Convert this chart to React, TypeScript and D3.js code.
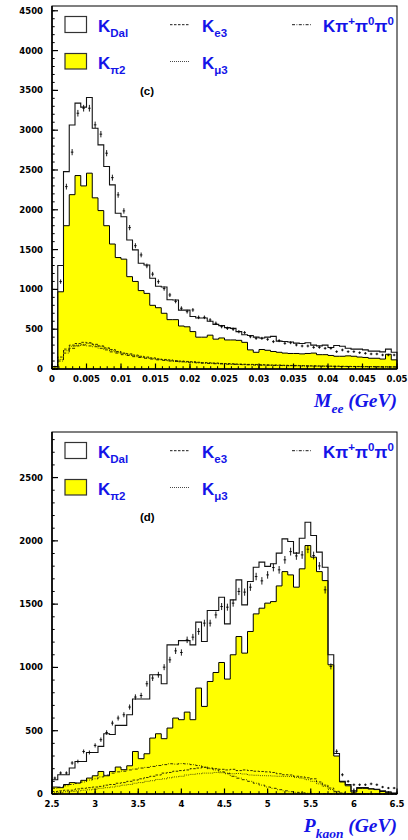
import * as d3 from 'd3';

// ---------------------------------------------------------------------------
// Panel (c): M_ee, 60 bins over 0 – 0.05 GeV
// ---------------------------------------------------------------------------
const MEE_DOMAIN: [number, number] = [0, 0.05];
const MEE_Y_MAX = 4560;

const MEE_KDAL = [
  30, 1300, 2480, 3065, 3340, 3290, 3410, 3025, 2815, 2544,
  2313, 1957, 1913, 1621, 1496, 1328, 1307, 1140, 1040, 1030,
  870, 867, 740, 740, 660, 640, 640, 600, 560, 545,
  520, 510, 470, 430, 420, 400, 390, 400, 410, 350,
  345, 340, 325, 320, 330, 300, 290, 300, 270, 295,
  285, 260, 250, 250, 240, 225, 225, 215, 250, 210,
];
const MEE_KPI2 = [
  30, 970, 1800, 2190, 2430, 2300, 2460, 2150, 1990, 1800,
  1570, 1400, 1380, 1160, 1100, 985, 950, 800, 770, 700,
  620, 620, 540, 530, 470, 400, 400, 425, 375, 390,
  365, 365, 360, 335, 240, 210, 245, 235, 220, 210,
  200, 195, 195, 190, 195, 200, 180, 180, 170, 160,
  160, 165, 160, 150, 145, 135, 135, 125, 185, 115,
];
const MEE_KE3 = [
  0, 150, 250, 300, 320, 335, 330, 310, 290, 265,
  245, 220, 200, 190, 175, 160, 150, 140, 128, 120,
  115, 105, 100, 95, 92, 85, 80, 78, 75, 70,
  68, 66, 62, 60, 58, 57, 54, 52, 50, 50,
  47, 45, 45, 42, 40, 40, 38, 37, 36, 36,
  34, 33, 32, 32, 30, 30, 29, 28, 28, 27,
];
const MEE_KMU3 = [
  0, 120, 230, 285, 300, 310, 320, 300, 285, 260,
  230, 210, 195, 180, 165, 150, 140, 130, 120, 112,
  105, 100, 92, 88, 85, 80, 76, 72, 70, 66,
  62, 60, 58, 55, 54, 52, 50, 48, 47, 45,
  44, 42, 41, 40, 38, 37, 36, 35, 34, 33,
  32, 31, 30, 30, 29, 28, 27, 27, 26, 25,
];
const MEE_K3PI = [
  0, 100, 200, 260, 290, 300, 290, 280, 260, 240,
  215, 200, 180, 170, 155, 145, 135, 125, 115, 108,
  100, 95, 90, 85, 80, 76, 72, 70, 66, 64,
  60, 58, 56, 54, 52, 50, 48, 47, 45, 44,
  42, 41, 40, 38, 37, 36, 35, 34, 33, 32,
  31, 30, 30, 29, 28, 28, 27, 26, 26, 25,
];
const MEE_DATA = [
  30, 1098, 2291, 2724, 3213, 3276, 3276, 3067, 2950, 2711,
  2404, 2187, 1986, 1776, 1549, 1433, 1295, 1192, 1097, 1010,
  930, 850, 763, 720, 742, 649, 649, 616, 574, 532,
  511, 499, 469, 457, 406, 385, 385, 373, 344, 356,
  323, 330, 302, 289, 289, 272, 272, 260, 260, 218,
  239, 218, 218, 205, 197, 189, 189, 176, 176, 176,
];
const MEE_Y_TICKS = [0, 500, 1000, 1500, 2000, 2500, 3000, 3500, 4000, 4500];
const MEE_X_TICKS = [0, 0.005, 0.01, 0.015, 0.02, 0.025, 0.03, 0.035, 0.04, 0.045, 0.05];
const MEE_X_LABELS = ['0', '0.005', '0.01', '0.015', '0.02', '0.025', '0.03', '0.035', '0.04', '0.045', '0.05'];

// ---------------------------------------------------------------------------
// Panel (d): P_kaon, 60 bins over 2.5 – 6.5 GeV
// ---------------------------------------------------------------------------
const PK_DOMAIN: [number, number] = [2.5, 6.5];
const PK_Y_MAX = 2860;

const PK_KDAL = [
  113, 152, 152, 205, 257, 257, 328, 328, 376, 476,
  470, 542, 542, 626, 750, 750, 750, 942, 942, 871,
  1178, 1178, 1212, 1212, 1178, 1358, 1205, 1450, 1450, 1555,
  1344, 1534, 1692, 1494, 1679, 1792, 1832, 1798, 1819, 1903,
  2016, 1995, 1903, 2021, 2147, 2042, 1911, 1792, 1100, 320,
  100, 75, 25, 50, 50, 42, 38, 25, 15, 8,
];
const PK_KPI2 = [
  55, 50, 75, 90, 87, 108, 126, 144, 178, 144,
  178, 213, 192, 223, 336, 279, 318, 442, 476, 437,
  521, 600, 587, 647, 587, 837, 692, 889, 960, 1039,
  908, 1100, 1244, 1113, 1284, 1423, 1468, 1508, 1520, 1644,
  1757, 1731, 1634, 1779, 1963, 1871, 1757, 1686, 1021, 300,
  95, 65, 15, 45, 45, 40, 35, 20, 15, 5,
];
const PK_KE3 = [
  20, 25, 30, 30, 40, 45, 50, 55, 60, 70,
  75, 85, 90, 100, 110, 120, 130, 140, 150, 165,
  170, 180, 185, 190, 200, 205, 210, 205, 200, 195,
  190, 195, 185, 190, 185, 180, 178, 175, 170, 160,
  152, 150, 140, 135, 128, 120, 95, 70, 47, 21,
  8, 3, 0, 0, 0, 0, 0, 0, 0, 0,
];
const PK_KMU3 = [
  10, 12, 18, 20, 25, 30, 33, 38, 45, 50,
  55, 62, 70, 75, 85, 90, 100, 105, 115, 120,
  128, 135, 140, 150, 155, 160, 165, 165, 170, 168,
  165, 160, 162, 158, 150, 148, 145, 144, 142, 140,
  139, 138, 130, 125, 113, 100, 80, 60, 35, 15,
  5, 0, 0, 0, 0, 0, 0, 0, 0, 0,
];
const PK_K3PI = [
  45, 55, 65, 75, 85, 95, 110, 120, 135, 150,
  165, 175, 180, 190, 197, 205, 210, 218, 225, 232,
  239, 236, 240, 238, 232, 225, 215, 200, 190, 175,
  160, 140, 125, 113, 100, 85, 70, 55, 45, 34,
  25, 18, 13, 9, 6, 4, 3, 2, 1, 0,
  0, 0, 0, 0, 0, 0, 0, 0, 0, 0,
];
const PK_DATA = [
  126, 166, 166, 245, 257, 336, 328, 384, 429, 486,
  560, 600, 626, 687, 766, 778, 871, 916, 942, 1002,
  1060, 1131, 1118, 1218, 1239, 1284, 1350, 1350, 1415, 1481,
  1476, 1508, 1600, 1595, 1634, 1718, 1684, 1731, 1789, 1771,
  1850, 1915, 1881, 1889, 1934, 1884, 1802, 1613, 1008, 337,
  152, 100, 73, 73, 73, 80, 73, 55, 47, 47,
];
const PK_Y_TICKS = [0, 500, 1000, 1500, 2000, 2500];
const PK_X_TICKS = [2.5, 3, 3.5, 4, 4.5, 5, 5.5, 6, 6.5];
const PK_X_LABELS = ['2.5', '3', '3.5', '4', '4.5', '5', '5.5', '6', '6.5'];

// ---------------------------------------------------------------------------

const BLUE = '#1414e8';
const LEGEND_FONT = '"Liberation Sans", Arial, Helvetica, sans-serif';
const TICK_FONT = '"DejaVu Sans", Verdana, sans-serif';
const TITLE_FONT = '"Liberation Serif", "Times New Roman", serif';
/** Data error bar half-height, as a fraction of sqrt(N). */
const ERR_SCALE = 0.6;

type Frame = { left: number; right: number; top: number; bottom: number };
type Pt = { x: number; y: number };

/** Bin edges + values as points for a step curve (last value repeated at the right edge). */
function stepPoints(values: number[], domain: [number, number]): Pt[] {
  const w = (domain[1] - domain[0]) / values.length;
  const pts = values.map((v, i) => ({ x: domain[0] + i * w, y: v }));
  pts.push({ x: domain[1], y: values[values.length - 1] });
  return pts;
}

interface PanelProps {
  frame: Frame;
  xDomain: [number, number];
  yMax: number;
  kdal: number[];
  kpi2: number[];
  ke3: number[];
  kmu3: number[];
  k3pi: number[];
  data: number[];
  xTicks: number[];
  xLabels: string[];
  xMinorStep: number;
  yTicks: number[];
  yMinorStep: number;
  tag: string;
  titleMain: string;
  titleSub: string;
}

function Panel(props: PanelProps) {
  const { frame, xDomain, yMax } = props;
  const x = d3.scaleLinear().domain(xDomain).range([frame.left, frame.right]);
  const y = d3.scaleLinear().domain([0, yMax]).range([frame.bottom, frame.top]);

  const stepLine = d3
    .line<Pt>()
    .x((d) => x(d.x))
    .y((d) => y(d.y))
    .curve(d3.curveStepAfter);
  const stepArea = d3
    .area<Pt>()
    .x((d) => x(d.x))
    .y0(y(0))
    .y1((d) => y(d.y))
    .curve(d3.curveStepAfter);

  const closed = (vals: number[]) => [
    { x: xDomain[0], y: 0 },
    ...stepPoints(vals, xDomain),
    { x: xDomain[1], y: 0 },
  ];

  const binW = (xDomain[1] - xDomain[0]) / props.data.length;
  const xMinor = d3.range(xDomain[0], xDomain[1] + binW / 10, props.xMinorStep);
  const yMinor = d3.range(0, yMax, props.yMinorStep);

  const t = frame.top;
  const lx = 65;
  return (
    <g>
      {/* Kpi2 filled */}
      <path d={stepArea(stepPoints(props.kpi2, xDomain)) ?? ''} fill="#ffff00" stroke="none" />
      <path d={stepLine(closed(props.kpi2)) ?? ''} fill="none" stroke="#000" strokeWidth={1} />
      {/* KDal total */}
      <path d={stepLine(closed(props.kdal)) ?? ''} fill="none" stroke="#111" strokeWidth={1.1} />
      {/* background components */}
      <path d={stepLine(stepPoints(props.ke3, xDomain)) ?? ''} fill="none" stroke="#000" strokeWidth={0.8} strokeDasharray="2.5 1.5" />
      <path d={stepLine(stepPoints(props.kmu3, xDomain)) ?? ''} fill="none" stroke="#000" strokeWidth={0.8} strokeDasharray="0.8 1.2" />
      <path d={stepLine(stepPoints(props.k3pi, xDomain)) ?? ''} fill="none" stroke="#000" strokeWidth={0.8} strokeDasharray="3 1.5 0.8 1.5" />
      {/* data */}
      {props.data.map((v, i) => {
        const cx = x(xDomain[0] + (i + 0.5) * binW);
        const e = Math.sqrt(v) * ERR_SCALE;
        return (
          <g key={i} stroke="#000" strokeWidth={0.9}>
            <line x1={cx} x2={cx} y1={y(v + e) - 0.6} y2={y(Math.max(0, v - e)) + 0.6} />
            <line x1={cx - 1.3} x2={cx + 1.3} y1={y(v)} y2={y(v)} />
          </g>
        );
      })}

      {/* frame */}
      <rect
        x={frame.left}
        y={frame.top}
        width={frame.right - frame.left}
        height={frame.bottom - frame.top}
        fill="none"
        stroke="#000"
        strokeWidth={1}
      />
      <line x1={frame.left} x2={frame.right} y1={frame.bottom} y2={frame.bottom} stroke="#000" strokeWidth={1.6} />
      <line x1={frame.left} x2={frame.left} y1={frame.top} y2={frame.bottom} stroke="#000" strokeWidth={1.6} />

      {/* y axis ticks */}
      {yMinor.map((v) => (
        <line key={`ym${v}`} x1={frame.left} x2={frame.left + 2.7} y1={y(v)} y2={y(v)} stroke="#000" strokeWidth={1} />
      ))}
      {props.yTicks.map((v) => (
        <g key={`yt${v}`}>
          <line x1={frame.left} x2={frame.left + 6} y1={y(v)} y2={y(v)} stroke="#000" strokeWidth={1.2} />
          <text
            x={43}
            y={y(v)}
            dy="0.36em"
            textAnchor="end"
            fontFamily={TICK_FONT}
            fontWeight="bold"
            fontSize={8.5}
            fill="#000"
          >
            {v}
          </text>
        </g>
      ))}

      {/* x axis ticks */}
      {xMinor.map((v) => (
        <line key={`xm${v}`} x1={x(v)} x2={x(v)} y1={frame.bottom} y2={frame.bottom - 2.8} stroke="#000" strokeWidth={1} />
      ))}
      {props.xTicks.map((v, i) => (
        <g key={`xt${v}`}>
          <line x1={x(v)} x2={x(v)} y1={frame.bottom} y2={frame.bottom - 5.5} stroke="#000" strokeWidth={1.2} />
          <text
            x={x(v)}
            y={frame.bottom + 13.3}
            textAnchor="middle"
            fontFamily={TICK_FONT}
            fontWeight="bold"
            fontSize={8.5}
            fill="#000"
          >
            {props.xLabels[i]}
          </text>
        </g>
      ))}

      {/* axis title */}
      <text
        x={frame.right}
        y={frame.bottom + 37.5}
        textAnchor="end"
        fontFamily={TITLE_FONT}
        fontStyle="italic"
        fontWeight="bold"
        fontSize={19.5}
        fill={BLUE}
      >
        <tspan>{props.titleMain}</tspan>
        <tspan fontSize={13.5} dy={6.5}>
          {props.titleSub}
        </tspan>
        <tspan dy={-6.5}> (GeV)</tspan>
      </text>

      {/* tag */}
      <text x={140} y={t + 89} fontFamily={LEGEND_FONT} fontWeight="bold" fontSize={11.5} fill="#000">
        {props.tag}
      </text>

      {/* legend */}
      <rect x={lx} y={t + 10.5} width={21.5} height={16} fill="#fff" stroke="#333" strokeWidth={1.2} />
      <rect x={lx} y={t + 47.5} width={21.5} height={15.5} fill="#ffff00" stroke="#333" strokeWidth={1.2} />
      <line x1={170} x2={190} y1={t + 18.7} y2={t + 18.7} stroke="#000" strokeWidth={0.9} strokeDasharray="2.5 1.5" />
      <line x1={170} x2={190} y1={t + 55.5} y2={t + 55.5} stroke="#000" strokeWidth={0.9} strokeDasharray="0.8 1.2" />
      <line x1={292} x2={311} y1={t + 18.7} y2={t + 18.7} stroke="#000" strokeWidth={0.9} strokeDasharray="3 1.5 0.8 1.5" />
      <g fontFamily={LEGEND_FONT} fontWeight="bold" fontSize={17} fill={BLUE}>
        <text x={98} y={t + 26}>
          K<tspan fontSize={11.5} dy={5}>Dal</tspan>
        </text>
        <text x={98} y={t + 63}>
          K<tspan fontSize={11.5} dy={5}>π2</tspan>
        </text>
        <text x={202} y={t + 26}>
          K<tspan fontSize={11.5} dy={5}>e3</tspan>
        </text>
        <text x={202} y={t + 63}>
          K<tspan fontSize={11.5} dy={5}>μ3</tspan>
        </text>
        <text x={323} y={t + 26}>
          Kπ<tspan fontSize={11.5} dy={-7}>+</tspan>
          <tspan dy={7}>π</tspan>
          <tspan fontSize={11.5} dy={-7}>0</tspan>
          <tspan dy={7}>π</tspan>
          <tspan fontSize={11.5} dy={-7}>0</tspan>
        </text>
      </g>
    </g>
  );
}

export default function App() {
  return (
    <svg
      width={408}
      height={840}
      viewBox="0 0 408 840"
      style={{ position: 'absolute', left: 0, top: 0, background: '#fff', display: 'block' }}
    >
      <rect x={0} y={0} width={408} height={840} fill="#fff" />
      <Panel
        frame={{ left: 52, right: 397, top: 6, bottom: 369 }}
        xDomain={MEE_DOMAIN}
        yMax={MEE_Y_MAX}
        kdal={MEE_KDAL}
        kpi2={MEE_KPI2}
        ke3={MEE_KE3}
        kmu3={MEE_KMU3}
        k3pi={MEE_K3PI}
        data={MEE_DATA}
        xTicks={MEE_X_TICKS}
        xLabels={MEE_X_LABELS}
        xMinorStep={0.001}
        yTicks={MEE_Y_TICKS}
        yMinorStep={100}
        tag="(c)"
        titleMain="M"
        titleSub="ee"
      />
      <Panel
        frame={{ left: 52, right: 397, top: 432, bottom: 794 }}
        xDomain={PK_DOMAIN}
        yMax={PK_Y_MAX}
        kdal={PK_KDAL}
        kpi2={PK_KPI2}
        ke3={PK_KE3}
        kmu3={PK_KMU3}
        k3pi={PK_K3PI}
        data={PK_DATA}
        xTicks={PK_X_TICKS}
        xLabels={PK_X_LABELS}
        xMinorStep={0.1}
        yTicks={PK_Y_TICKS}
        yMinorStep={100}
        tag="(d)"
        titleMain="P"
        titleSub="kaon"
      />
    </svg>
  );
}
